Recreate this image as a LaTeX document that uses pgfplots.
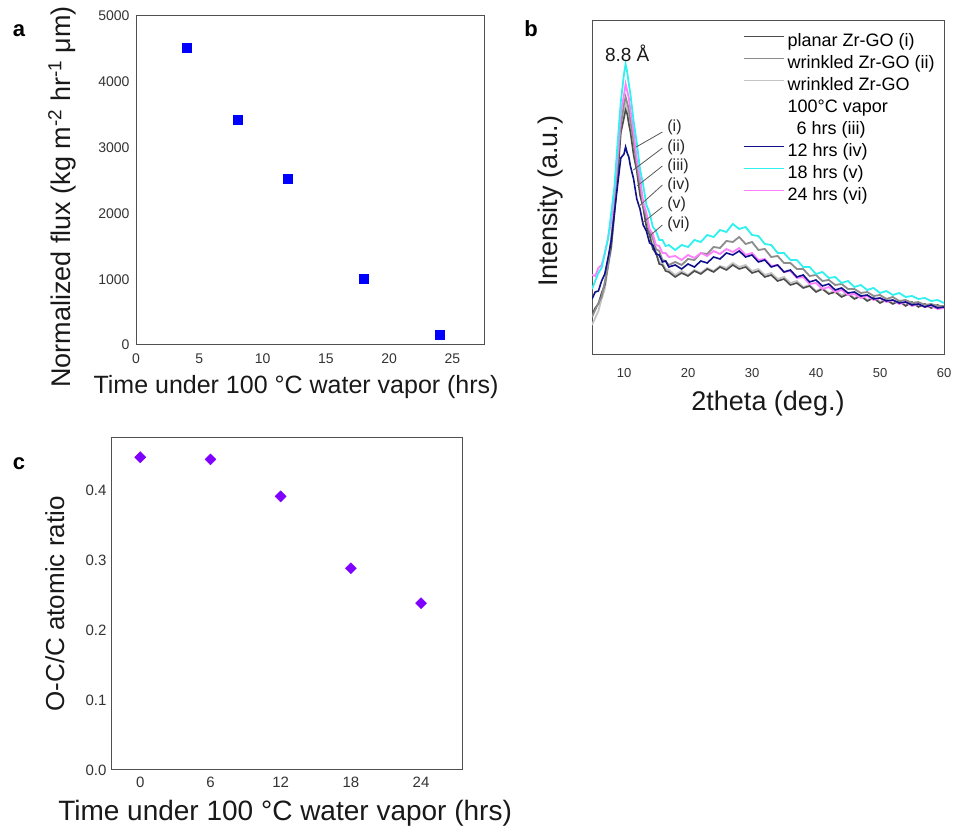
\documentclass[border=0pt]{standalone}
\usepackage{pgfplots}
\pgfplotsset{compat=1.18}
\usepackage{pgfplotstable}
\usepackage{fontspec}
\setmainfont{Liberation Sans}

\definecolor{cI}{HTML}{4D4D4D}
\definecolor{cII}{HTML}{8C8C8C}
\definecolor{cIII}{HTML}{C4C4C4}
\definecolor{cIV}{HTML}{10108C}
\definecolor{cV}{HTML}{30F0F0}
\definecolor{cVI}{HTML}{FF80FF}
\definecolor{axc}{HTML}{505050}
\definecolor{mblue}{HTML}{0000FF}
\definecolor{mpurple}{HTML}{7F00FF}

\pgfplotstableread{
t flux
4 4520
8 3420
12 2520
18 1000
24 160
}\fluxtab

\pgfplotstableread{
t ratio
0 0.448
6 0.445
12 0.392
18 0.289
24 0.239
}\ratiotab

\pgfplotstableread{
x i ii iii iv v vi
5 40 38 30 56 66 80
5.5 47 45 37 63 74 79
6 51 52 44 64 82 87
6.5 62 58 56 74 87 90
7 70 73 66 81 102 101
7.5 90 89 88 97 116 117
8 108 117 106 114 142 133
8.5 142 146 141 142 168 164
9 178 192 180 170 212 198
9.5 222 230 226 197 253 242
10 237 251 242 201 281 260
10.25 245 258 250 208 291 271
10.5 241 252 246 202 283 264
10.75 231 246 236 198 271 257
11 223 234 228 189 261 245
11.5 200 214 205 176 234 223
12 184 189 187 156 212 196
12.5 160 170 164 146 186 177
13 147 149 150 130 170 153
13.5 128 138 131 124 150 142
14 120 123 122 112 142 126
14.5 106 117 108 110 128 121
15 102 106 104 101 124 110
15.5 91 104 93 100 115 109
16 90 95 92 93 115 102
16.5 84 94 86 94 109 102
17 83 90 85 88 110 98
18 78 93 80 90 105 99
19 82 90 84 86 110 95
20 79 96 80 91 108 100
21 84 95 85 88 115 97
22 81 102 82 94 113 102
23 86 101 87 92 120 99
24 83 108 84 98 118 104
25 88 107 89 96 125 101
26 85 114 87 102 123 106
27 90 113 92 100 131 103
28 86 118 88 104 126 107
29 88 111 90 98 128 100
30 82 113 84 100 120 102
31 84 105 86 93 119 95
32 78 106 80 95 111 96
33 80 98 82 88 110 89
34 74 99 76 90 102 90
35 76 92 78 83 102 83
36 70 92 72 85 95 84
37 72 86 74 78 95 77
38 67 86 68 80 88 78
39 69 79 70 73 88 71
40 63 80 64 75 81 72
41 66 74 67 69 83 66
42 61 75 62 71 77 68
43 63 70 64 65 78 63
44 58 71 60 67 72 65
45 61 66 62 62 74 60
46 56 66 57 63 68 61
47 59 62 60 59 70 57
48 54 63 55 60 65 59
49 57 59 58 56 67 55
50 52 60 53 57 62 57
51 55 56 56 54 64 53
52 51 58 52 55 60 55
53 54 54 54 52 62 51
54 49 55 50 53 58 53
55 53 52 52 50 59 49
56 48 53 49 51 56 51
57 51 50 51 48 57 48
58 47 51 47 50 54 49
59 50 49 50 47 55 46
60 47 49 47 48 52 47
}\xrdtab

\pgfplotsset{
  panel/.style={
    scale only axis,
    axis line style={axc, line width=1pt},
    major tick length=0pt,
    /pgf/number format/assume math mode=true,
    /pgf/number format/1000 sep={},
    scaled ticks=false,
    tick label style={color=black!80},
    label style={color=black!90},
  }
}

\begin{document}
\begin{tikzpicture}
\path[use as bounding box] (0pt,0pt) rectangle (954pt,832pt);

% ---------------- panel a
\begin{axis}[panel,
  at={(136pt,487pt)}, anchor=south west,
  width=348pt, height=329pt,
  xmin=0, xmax=27.5, ymin=0, ymax=5000,
  xtick={0,5,...,25}, ytick={0,1000,...,5000},
  tick label style={font=\fontsize{14}{16}\selectfont},
  x tick label style={yshift=-5pt}, y tick label style={xshift=-3pt},
  xlabel={Time under 100 °C water vapor (hrs)},
  ylabel={Normalized flux (kg m\textsuperscript{-2} hr\textsuperscript{-1} μm)},
  xlabel style={at={(axis description cs:0.46,-0.128)}, anchor=center, font=\fontsize{25}{30}\selectfont},
  ylabel style={at={(axis description cs:-0.2126,0.45)}, anchor=center, font=\fontsize{27}{32}\selectfont},
]
\addplot[only marks, mark=square*, mark size=4.5pt, color=mblue] table[x=t,y=flux]{\fluxtab};
\end{axis}

% ---------------- panel b
\begin{axis}[panel,
  at={(592pt,477pt)}, anchor=south west,
  width=352pt, height=334pt,
  xmin=5, xmax=60, ymin=0, ymax=334,
  xtick={10,20,...,60}, ytick=\empty,
  tick label style={font=\fontsize{13}{15}\selectfont},
  x tick label style={yshift=-9.5pt},
  xlabel={2theta (deg.)}, ylabel={Intensity (a.u.)},
  label style={font=\fontsize{27}{32}\selectfont},
  xlabel style={at={(axis description cs:0.5,-0.144)}, anchor=center},
  ylabel style={at={(axis description cs:-0.1165,0.461)}, anchor=center},
  legend style={at={(0.429,0.962)}, anchor=north west, draw=none, fill=none,
    inner sep=0pt, font=\fontsize{18}{20}\selectfont, row sep=5pt,
    nodes={inner ysep=0pt, inner xsep=3.5pt, text height=13pt, text depth=4pt}},
  legend cell align=left,
  legend image code/.code={\draw[#1] (0pt,5.5pt) -- (40pt,5.5pt);},
]
\addplot[cIII, line width=1.8pt, forget plot] table[x=x,y=iii]{\xrdtab};
\addplot[cI, line width=1.6pt, forget plot] table[x=x,y=i]{\xrdtab};
\addplot[cII, line width=1.8pt, forget plot] table[x=x,y=ii]{\xrdtab};
\addplot[cVI, line width=1.8pt, forget plot] table[x=x,y=vi]{\xrdtab};
\addplot[cIV, line width=1.6pt, forget plot] table[x=x,y=iv]{\xrdtab};
\addplot[cV, line width=1.8pt, forget plot] table[x=x,y=v]{\xrdtab};

\addlegendimage{cI, line width=1pt}\addlegendentry{planar Zr-GO (i)}
\addlegendimage{cII, line width=1pt}\addlegendentry{wrinkled Zr-GO (ii)}
\addlegendimage{cIII, line width=1pt}\addlegendentry{wrinkled Zr-GO}
\addlegendimage{empty legend}\addlegendentry{100°C vapor}
\addlegendimage{empty legend}\addlegendentry{\hspace*{9pt}6 hrs (iii)}
\addlegendimage{cIV, line width=1pt}\addlegendentry{12 hrs (iv)}
\addlegendimage{cV, line width=1pt}\addlegendentry{18 hrs (v)}
\addlegendimage{cVI, line width=1pt}\addlegendentry{24 hrs (vi)}

\node[font=\fontsize{19}{22}\selectfont, text=black!90] at (axis cs:10.5,302) {8.8 Å};
\begin{scope}[every node/.style={anchor=west, inner sep=0pt, font=\fontsize{16}{18}\selectfont, text=black!85}]
\node at (axis cs:16.75,228) {(i)};
\node at (axis cs:16.75,208) {(ii)};
\node at (axis cs:16.75,189) {(iii)};
\node at (axis cs:16.75,170) {(iv)};
\node at (axis cs:16.75,151) {(v)};
\node at (axis cs:16.75,131) {(vi)};
\end{scope}
\draw[black!65, line width=0.8pt] (axis cs:16.0,223) -- (axis cs:11.9,208);
\draw[black!65, line width=0.8pt] (axis cs:16.0,207) -- (axis cs:11.45,185);
\draw[black!65, line width=0.8pt] (axis cs:16.0,189) -- (axis cs:12.05,169);
\draw[black!65, line width=0.8pt] (axis cs:16.0,170) -- (axis cs:12.2,148);
\draw[black!65, line width=0.8pt] (axis cs:16.0,148) -- (axis cs:12.85,132);
\draw[black!65, line width=0.8pt] (axis cs:16.0,130) -- (axis cs:13.8,118);
\end{axis}

% ---------------- panel c
\begin{axis}[panel,
  at={(111pt,62pt)}, anchor=south west,
  width=351pt, height=332pt,
  xmin=-2.5, xmax=27.5, ymin=0, ymax=0.4756,
  xtick={0,6,12,18,24}, ytick={0,0.1,0.2,0.3,0.4},
  yticklabel style={/pgf/number format/fixed, /pgf/number format/fixed zerofill, /pgf/number format/precision=1},
  tick label style={font=\fontsize{15}{17}\selectfont},
  x tick label style={yshift=-3pt}, y tick label style={xshift=-1pt},
  xlabel={Time under 100 °C water vapor (hrs)},
  ylabel={O-C/C atomic ratio},
  xlabel style={at={(axis description cs:0.496,-0.1295)}, anchor=center, font=\fontsize{28}{33}\selectfont},
  ylabel style={at={(axis description cs:-0.16,0.5)}, anchor=center, font=\fontsize{26}{31}\selectfont},
]
\addplot[only marks, mark=square*, mark size=3.9pt, mark options={rotate=45}, color=mpurple] table[x=t,y=ratio]{\ratiotab};
\end{axis}

\node[font=\bfseries\fontsize{22}{26}\selectfont] at (19pt,801pt) {a};
\node[font=\bfseries\fontsize{22}{26}\selectfont] at (531pt,803.5pt) {b};
\node[font=\bfseries\fontsize{22}{26}\selectfont] at (19pt,368.5pt) {c};
\end{tikzpicture}
\end{document}
